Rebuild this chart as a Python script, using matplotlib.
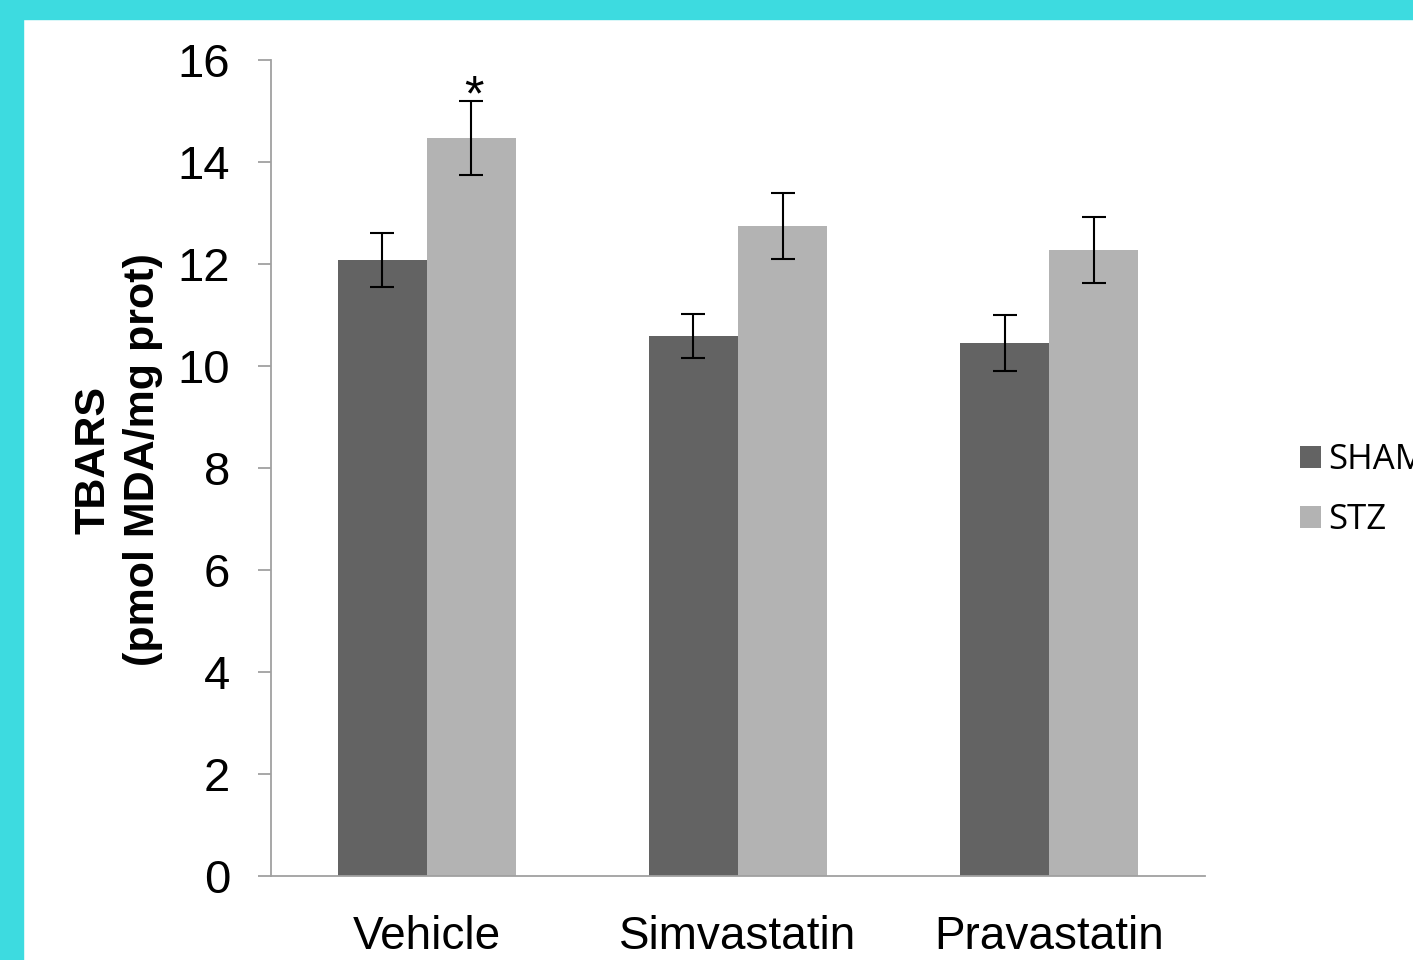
import matplotlib.pyplot as plt
from matplotlib.patches import Rectangle
import numpy as np

# data
categories = ["Vehicle", "Simvastatin", "Pravastatin"]
sham = [12.08, 10.59, 10.45]
sham_err = [0.53, 0.43, 0.55]
stz = [14.47, 12.75, 12.27]
stz_err = [0.73, 0.65, 0.65]

fig = plt.figure(figsize=(14.13, 9.6), dpi=100)
ax = fig.add_axes([271/1413, 84/960, 934/1413, 816/960])

x = np.arange(len(categories))
width = 0.286

err_kw = dict(ecolor="black", elinewidth=1.5, capsize=8.5, capthick=1.5)
b1 = ax.bar(x - width/2, sham, width, yerr=sham_err, color="#636363",
            label="SHAM", error_kw=err_kw)
b2 = ax.bar(x + width/2, stz, width, yerr=stz_err, color="#b3b3b3",
            label="STZ", error_kw=err_kw)

# significance mark
ax.text(x[0] + width/2 + 0.01, stz[0] + stz_err[0] - 0.38, "*", ha="center",
        va="bottom", fontsize=36, fontfamily="Liberation Sans")

ax.set_xlim(-0.5, 2.5)
ax.set_ylim(0, 16)
ax.set_yticks(range(0, 17, 2))
ax.set_xticks(x)
ax.set_xticklabels(categories, fontsize=33, fontfamily="Liberation Sans")
ax.tick_params(axis="x", length=0, pad=28)
ax.tick_params(axis="y", length=9.5, width=1.3, color="#a0a0a0", pad=20,
               labelsize=34)
for lbl in ax.get_yticklabels():
    lbl.set_fontfamily("Liberation Sans")

for s in ["top", "right"]:
    ax.spines[s].set_visible(False)
for s in ["left", "bottom"]:
    ax.spines[s].set_color("#a0a0a0")
    ax.spines[s].set_linewidth(1.3)

ax.set_ylabel("TBARS\n(pmol MDA/mg prot)", fontsize=31, fontweight="bold",
              fontfamily="Liberation Sans", linespacing=1.3)
ax.yaxis.set_label_coords(-0.116, 0.51)

leg = fig.legend(handles=[b1, b2], labels=["SHAM", "STZ"],
                 loc="center left", bbox_to_anchor=(1269/1413, 1 - 490/960),
                 frameon=False, prop={"family": "Open Sans", "size": 25},
                 handlelength=0.6, handleheight=0.6, handletextpad=0.2,
                 labelspacing=0.75)

# cyan frame
fig.patches.append(Rectangle((0, 1 - 19/960), 1, 19/960, transform=fig.transFigure,
                             color="#3ddbe0", zorder=10))
fig.patches.append(Rectangle((0, 0), 23/1413, 1, transform=fig.transFigure,
                             color="#3ddbe0", zorder=10))

fig.savefig("out.png", dpi=100)
